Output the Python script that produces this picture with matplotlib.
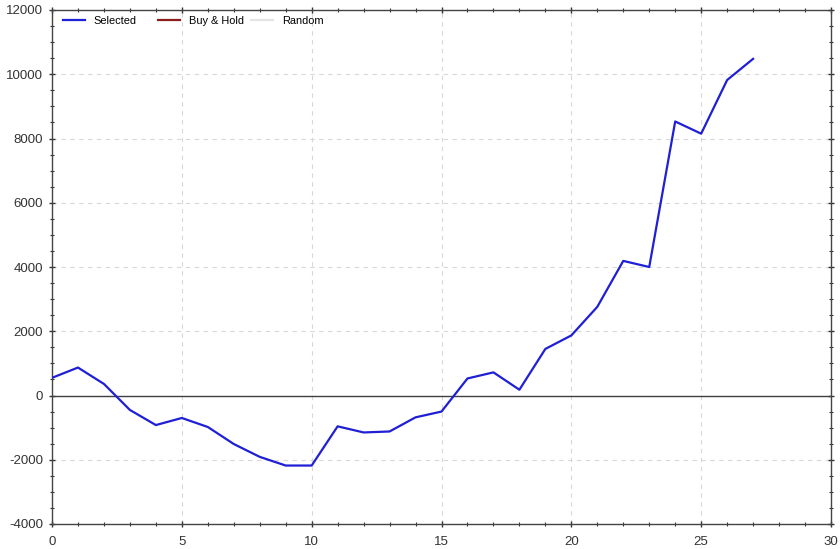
import matplotlib
matplotlib.use("Agg")
import matplotlib.pyplot as plt
from matplotlib.ticker import MultipleLocator
from matplotlib.legend import Legend

plt.rcParams['font.family'] = ['Liberation Sans', 'DejaVu Sans']
plt.rcParams['axes.unicode_minus'] = False

x_vals = list(range(28))
selected = [550, 870, 360, -450, -920, -700, -980, -1510, -1910, -2180, -2180,
            -960, -1150, -1120, -680, -500, 530, 720, 180, 1450, 1870, 2760,
            4190, 4000, 8530, 8150, 9820, 10480]
series_names = ["Selected", "Buy & Hold", "Random"]
series_colors = ["#1f1fd6", "#8b1c1c", "#e4e4e4"]

fig = plt.figure(figsize=(8.4, 5.49), dpi=100)
ax = fig.add_axes([52/840, 25/549, 779/840, 514/549])

h0, = ax.plot(x_vals, selected, color=series_colors[0], lw=1.6, label=series_names[0], zorder=3)
h1, = ax.plot([], [], color=series_colors[1], lw=1.6, label=series_names[1])
h2, = ax.plot([], [], color=series_colors[2], lw=1.6, label=series_names[2])
ax.axhline(0, color="#404040", lw=1.0, zorder=2)

ax.set_xlim(0, 30)
ax.set_ylim(-4000, 12000)
ax.xaxis.set_major_locator(MultipleLocator(5))
ax.xaxis.set_minor_locator(MultipleLocator(1))
ax.yaxis.set_major_locator(MultipleLocator(2000))
ax.yaxis.set_minor_locator(MultipleLocator(500))
ax.grid(True, which="major", color="#d8d8d8", ls=(0, (4, 4)), lw=0.8)
ax.tick_params(which="both", direction="inout", top=True, right=True,
               labeltop=False, labelright=False, colors="#333333", labelsize=9.5)
ax.tick_params(which="major", length=5, width=1, pad=4)
ax.tick_params(axis="x", which="major", pad=6)
ax.tick_params(which="minor", length=3.5, width=0.8)
for s in ax.spines.values():
    s.set_color("#444444")
    s.set_linewidth(1.0)
for lab in ax.get_xticklabels() + ax.get_yticklabels():
    lab.set_color("#333333")

anchors_px = [63, 158, 251]
for h, px in zip([h0, h1, h2], anchors_px):
    leg = Legend(ax, [h], [h.get_label()], loc="upper left", frameon=False,
                 fontsize=7.9, handlelength=2.0, handletextpad=0.8,
                 borderpad=0.0, borderaxespad=0.0,
                 bbox_to_anchor=((px - 52) / 779, (524 - 16) / 514))
    ax.add_artist(leg)

fig.savefig("out.png", dpi=100)
